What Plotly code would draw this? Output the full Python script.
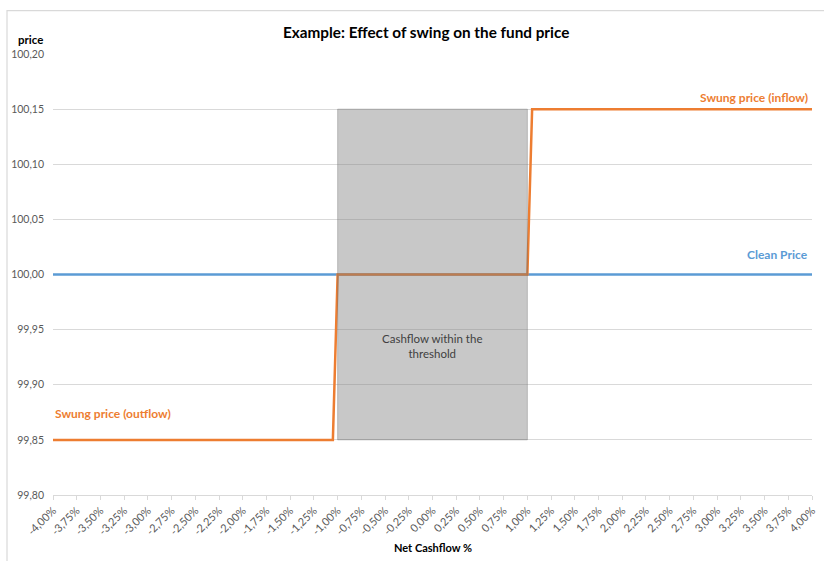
import plotly.graph_objects as go

# ---- data ----
tick_values = [-4.00, -3.75, -3.50, -3.25, -3.00, -2.75, -2.50, -2.25, -2.00, -1.75, -1.50,
               -1.25, -1.00, -0.75, -0.50, -0.25, 0.00, 0.25, 0.50, 0.75, 1.00, 1.25,
               1.50, 1.75, 2.00, 2.25, 2.50, 2.75, 3.00, 3.25, 3.50, 3.75, 4.00]
tick_labels = ["-4,00%", "-3,75%", "-3,50%", "-3,25%", "-3,00%", "-2,75%", "-2,50%", "-2,25%",
               "-2,00%", "-1,75%", "-1,50%", "-1,25%", "-1,00%", "-0,75%", "-0,50%", "-0,25%",
               "0,00%", "0,25%", "0,50%", "0,75%", "1,00%", "1,25%", "1,50%", "1,75%",
               "2,00%", "2,25%", "2,50%", "2,75%", "3,00%", "3,25%", "3,50%", "3,75%", "4,00%"]

clean_x = [-4.00, 4.00]
clean_price = [100.00, 100.00]

swung_x = [-4.00, -1.05, -1.00, 1.00, 1.05, 4.00]
swung_price = [99.85, 99.85, 100.00, 100.00, 100.15, 100.15]

threshold_x = [-1.00, 1.00]
threshold_y = [99.85, 100.15]

ORANGE = "#ED7D31"
BLUE = "#5B9BD5"
FONT = "Lato"

fig = go.Figure()
fig.add_trace(go.Scatter(x=clean_x, y=clean_price, mode="lines",
                         line=dict(color=BLUE, width=2.5), name="Clean Price"))
fig.add_trace(go.Scatter(x=swung_x, y=swung_price, mode="lines",
                         line=dict(color=ORANGE, width=2.5), name="Swung price"))

# threshold box (semi-transparent, over the lines)
fig.add_shape(type="rect", xref="x", yref="y",
              x0=threshold_x[0], x1=threshold_x[1], y0=threshold_y[0], y1=threshold_y[1],
              fillcolor="rgba(125,125,125,0.42)", line=dict(color="rgba(110,110,110,0.35)", width=1),
              layer="above")

# outer chart border
fig.add_shape(type="rect", xref="paper", yref="paper",
              x0=-0.0606, x1=1.05, y0=-0.2, y1=1.0985,
              line=dict(color="#D9D9D9", width=1.2), fillcolor="rgba(0,0,0,0)", layer="above")

fig.add_annotation(text="Example: Effect of swing on the fund price", xref="paper", yref="paper",
                   x=0.4914, y=1.05, xanchor="center", yanchor="middle", showarrow=False,
                   font=dict(family=FONT, size=15.3, color="#000000", weight="bold"))
fig.add_annotation(text="price", xref="paper", yref="paper", x=-0.0295, y=1.033,
                   xanchor="center", yanchor="middle",
                   showarrow=False, font=dict(family=FONT, size=11.5, color="#000000", weight="bold"))
fig.add_annotation(text="Net Cashflow %", xref="paper", yref="paper", x=0.5, y=-0.12,
                   showarrow=False, xanchor="center", yanchor="middle",
                   font=dict(family=FONT, size=11, color="#000000", weight="bold"))

fig.add_annotation(text="Swung price (inflow)", xref="paper", yref="y", x=0.998, y=100.15,
                   xanchor="right", yanchor="bottom", yshift=2, showarrow=False,
                   font=dict(family=FONT, size=12, color=ORANGE, weight="bold"))
fig.add_annotation(text="Clean Price", xref="paper", yref="y", x=0.998, y=100.00,
                   xanchor="right", yanchor="bottom", yshift=11, showarrow=False,
                   font=dict(family=FONT, size=12, color=BLUE, weight="bold"))
fig.add_annotation(text="Swung price (outflow)", xref="paper", yref="y", x=0.0, y=99.85,
                   xanchor="left", yanchor="bottom", yshift=17, showarrow=False,
                   font=dict(family=FONT, size=12, color=ORANGE, weight="bold"))
fig.add_annotation(text="Cashflow within the<br>threshold", xref="x", yref="y", x=0.0, y=99.935,
                   showarrow=False, align="center",
                   font=dict(family=FONT, size=11.5, color="#404040"))

fig.update_layout(
    width=824, height=561,
    margin=dict(l=53, r=12, t=53.5, b=66),
    paper_bgcolor="white", plot_bgcolor="white",
    showlegend=False,
    separators=",.",
    font=dict(family=FONT, color="#595959"),
    xaxis=dict(range=[-4, 4], tickvals=tick_values, ticktext=tick_labels, tickangle=-45,
               automargin=False,
               showgrid=False, zeroline=False, showline=True, linecolor="#D9D9D9", linewidth=1,
               ticks="outside", tickcolor="#D9D9D9", ticklen=4,
               tickfont=dict(family=FONT, size=11, color="#595959")),
    yaxis=dict(range=[99.80, 100.20], dtick=0.05, tick0=99.80, tickformat=".2f",
               automargin=False,
               showgrid=True, gridcolor="#D9D9D9", gridwidth=1, zeroline=False,
               showline=False, ticks="", ticklabelstandoff=8,
               tickfont=dict(family=FONT, size=10.5, color="#595959")),
)

fig.write_html("out.html", config={"displayModeBar": False},
               post_script="document.body.style.margin='0';document.body.style.overflow='hidden';")
